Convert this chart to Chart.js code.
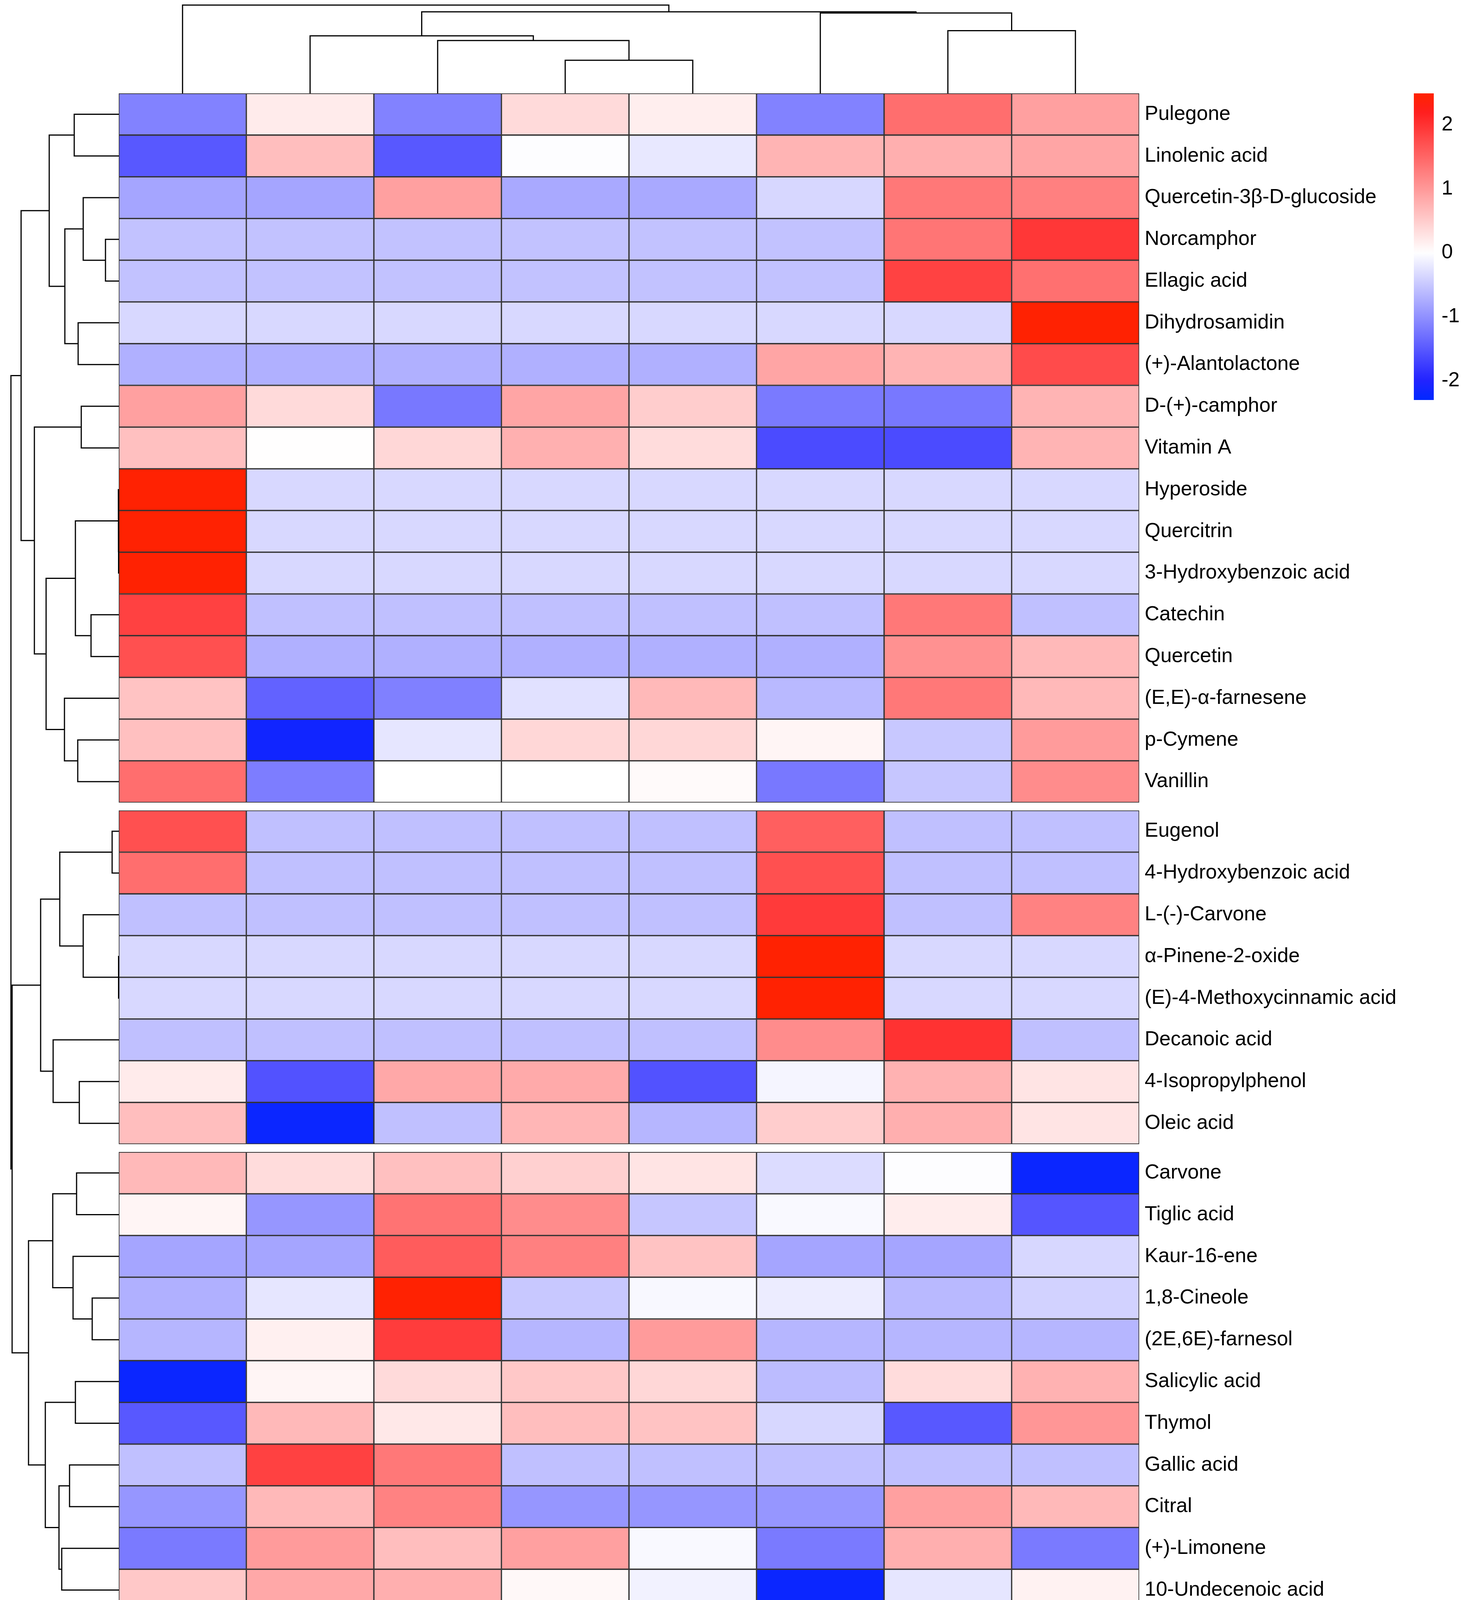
<!DOCTYPE html>
<html>
<head>
<meta charset="utf-8">
<script src="https://cdn.jsdelivr.net/npm/chart.js@4/dist/chart.umd.min.js"></script>
<style>
  body { margin: 0; background: #fff; }
  #wrap { position: relative; width: 3773px; height: 4458px; overflow: hidden; }
  canvas { position: absolute; }
</style>
</head>
<body>
<div id="wrap">
  <canvas id="heat"></canvas>
  <canvas id="rowTree"></canvas>
  <canvas id="colTree"></canvas>
  <canvas id="legend"></canvas>
</div>
<script>
// ---- data ----
const columns = ["BOR.EtOH", "CI.EtOAc", "BOW.EtOAc", "BOR.EtOAc", "SI.EtOAc", "CI.EtOH", "BOW.EtOH", "SI.EtOH"];

const rowNames = [
  "Pulegone", "Linolenic acid", "Quercetin-3β-D-glucoside", "Norcamphor", "Ellagic acid",
  "Dihydrosamidin", "(+)-Alantolactone", "D-(+)-camphor", "Vitamin A", "Hyperoside",
  "Quercitrin", "3-Hydroxybenzoic acid", "Catechin", "Quercetin", "(E,E)-α-farnesene",
  "p-Cymene", "Vanillin",
  "Eugenol", "4-Hydroxybenzoic acid", "L-(-)-Carvone", "α-Pinene-2-oxide",
  "(E)-4-Methoxycinnamic acid", "Decanoic acid", "4-Isopropylphenol", "Oleic acid",
  "Carvone", "Tiglic acid", "Kaur-16-ene", "1,8-Cineole", "(2E,6E)-farnesol",
  "Salicylic acid", "Thymol", "Gallic acid", "Citral", "(+)-Limonene", "10-Undecenoic acid"
];

// rows per cluster (gaps drawn between them)
const groupSizes = [17, 8, 11];

// row-scaled values, one array per row, columns in the order above
const values = [
  [-1.13, 0.20, -1.13, 0.36, 0.17, -1.13, 1.42, 0.93],
  [-1.51, 0.63, -1.51, -0.02, -0.21, 0.73, 0.78, 0.88],
  [-0.81, -0.81, 0.93, -0.78, -0.78, -0.36, 1.32, 1.24],
  [-0.55, -0.55, -0.55, -0.55, -0.55, -0.55, 1.35, 1.95],
  [-0.55, -0.55, -0.55, -0.55, -0.55, -0.55, 1.85, 1.40],
  [-0.35, -0.35, -0.35, -0.35, -0.35, -0.35, -0.35, 2.47],
  [-0.71, -0.71, -0.71, -0.71, -0.71, 0.88, 0.73, 1.76],
  [0.93, 0.36, -1.22, 0.88, 0.49, -1.20, -1.22, 0.73],
  [0.62, 0.01, 0.39, 0.77, 0.34, -1.62, -1.62, 0.73],
  [2.47, -0.35, -0.35, -0.35, -0.35, -0.35, -0.35, -0.35],
  [2.47, -0.35, -0.35, -0.35, -0.35, -0.35, -0.35, -0.35],
  [2.47, -0.35, -0.35, -0.35, -0.35, -0.35, -0.35, -0.35],
  [1.86, -0.57, -0.57, -0.57, -0.57, -0.57, 1.32, -0.57],
  [1.71, -0.71, -0.71, -0.71, -0.71, -0.71, 1.07, 0.68],
  [0.59, -1.42, -1.15, -0.27, 0.68, -0.63, 1.32, 0.68],
  [0.62, -2.15, -0.23, 0.39, 0.39, 0.10, -0.50, 0.98],
  [1.42, -1.17, 0.00, 0.00, 0.05, -1.22, -0.51, 1.12],
  [1.71, -0.57, -0.57, -0.57, -0.57, 1.56, -0.57, -0.57],
  [1.42, -0.57, -0.57, -0.57, -0.57, 1.71, -0.57, -0.57],
  [-0.57, -0.57, -0.57, -0.57, -0.57, 1.92, -0.57, 1.22],
  [-0.35, -0.35, -0.35, -0.35, -0.35, 2.47, -0.35, -0.35],
  [-0.35, -0.35, -0.35, -0.35, -0.35, 2.47, -0.35, -0.35],
  [-0.57, -0.57, -0.57, -0.57, -0.57, 1.12, 2.00, -0.57],
  [0.20, -1.56, 0.85, 0.83, -1.56, -0.09, 0.75, 0.26],
  [0.63, -2.20, -0.57, 0.71, -0.66, 0.49, 0.78, 0.26],
  [0.68, 0.34, 0.62, 0.46, 0.26, -0.32, -0.02, -2.20],
  [0.10, -0.95, 1.37, 1.12, -0.51, -0.05, 0.18, -1.53],
  [-0.81, -0.81, 1.59, 1.24, 0.59, -0.81, -0.81, -0.36],
  [-0.71, -0.23, 2.47, -0.50, -0.06, -0.17, -0.63, -0.41],
  [-0.66, 0.15, 1.90, -0.66, 0.98, -0.66, -0.66, -0.66],
  [-2.20, 0.10, 0.36, 0.54, 0.39, -0.60, 0.34, 0.75],
  [-1.51, 0.68, 0.22, 0.63, 0.59, -0.36, -1.51, 1.03],
  [-0.57, 1.86, 1.32, -0.57, -0.57, -0.57, -0.57, -0.57],
  [-0.95, 0.68, 1.22, -0.95, -0.95, -0.95, 0.93, 0.68],
  [-1.20, 0.98, 0.63, 0.93, -0.05, -1.20, 0.78, -1.20],
  [0.54, 0.85, 0.78, 0.07, -0.12, -2.20, -0.23, 0.13]
];

// hclust style merges: negative = leaf (-1 is the first row), positive = earlier merge (1-based), then height
const rowMerge = [
  [-1, -2, 114], [-4, -5, 34], [-3, 2, 91], [-6, -7, 104], [3, 4, 138], [1, 5, 178],
  [-8, -9, 96], [-11, -12, 0.5], [-10, 8, 1], [-13, -14, 71], [9, 10, 111],
  [-16, -17, 105], [-15, 12, 139], [11, 13, 186], [7, 14, 216], [6, 15, 250],
  [-18, -19, 17], [-21, -22, 0.5], [-20, 18, 91], [17, 19, 151], [-24, -25, 101],
  [-23, 21, 168], [20, 22, 200],
  [-26, -27, 108], [-29, -30, 68], [-28, 25, 117], [24, 26, 169], [-31, -32, 111],
  [-33, -34, 126], [-35, -36, 146], [29, 30, 153], [28, 31, 188], [27, 32, 231],
  [23, 33, 273], [16, 34, 276]
];
const colMerge = [
  [-4, -5, 84], [-3, 1, 134], [-2, 2, 146], [-7, -8, 159], [-6, 4, 204], [3, 5, 207], [-1, 6, 224]
];

const legendMin = -2.3;
const legendMax = 2.49;
const legendTicks = [-2, -1, 0, 1, 2];

// ---- layout (page pixels) ----
const HM = { left: 304, top: 239, right: 2916, bottom: 4124 };
const PAD = 20;
const GAP = 0.19;
const FONT = '"Liberation Sans", Arial, sans-serif';

Chart.defaults.font.family = FONT;
Chart.defaults.color = '#000';

let rowTops = [];
let yPos = 0;
groupSizes.forEach((n, g) => {
  for (let i = 0; i < n; i++) { rowTops.push(yPos); yPos += 1; }
  if (g < groupSizes.length - 1) yPos += GAP;
});
const totalRows = yPos;

function colorFor(v) {
  if (v >= 0) {
    const f = Math.min(v / legendMax, 1);
    const c = 255 * (1 - f);
    return `rgb(255,${Math.round(Math.max(c, 34 * f))},${Math.round(c)})`;
  }
  const f = Math.min(v / legendMin, 1);
  const c = 255 * (1 - f);
  return `rgb(${Math.round(c)},${Math.round(Math.max(c, 40 * f))},255)`;
}

function place(id, left, top, w, h) {
  const c = document.getElementById(id);
  c.width = w; c.height = h;
  c.style.left = left + 'px'; c.style.top = top + 'px';
  c.style.width = w + 'px'; c.style.height = h + 'px';
  return c;
}

// the scales must not push the plot area around; positions are fixed above
function noPadding(s) {
  s.paddingLeft = 0; s.paddingRight = 0; s.paddingTop = 0; s.paddingBottom = 0;
}

// returns one 4-point bracket per merge: [position, height] pairs
function treeSegments(merge, leafPos) {
  const pos = [];
  const segs = [];
  const at = k => k < 0 ? [leafPos[-k - 1], 0] : [pos[k - 1], merge[k - 1][2]];
  merge.forEach(([a, b, h]) => {
    const [pa, ha] = at(a);
    const [pb, hb] = at(b);
    segs.push([[pa, ha], [pa, h], [pb, h], [pb, hb]]);
    pos.push((pa + pb) / 2);
  });
  return segs;
}

const common = {
  responsive: false,
  devicePixelRatio: 1,
  animation: false,
  events: [],
  plugins: { legend: { display: false }, tooltip: { enabled: false } }
};

// ---- heatmap ----
const heatLeft = 150;
const heatW = 3600 - heatLeft;
const heatH = 4458 - (HM.top - PAD);
const heatCanvas = place('heat', heatLeft, HM.top - PAD, heatW, heatH);

new Chart(heatCanvas, {
  type: 'bar',
  data: {
    labels: columns,
    datasets: values.map((row, r) => ({
      data: row.map(() => [rowTops[r], rowTops[r] + 1]),
      backgroundColor: row.map(colorFor),
      borderColor: '#333333',
      borderWidth: 2,
      borderSkipped: false,
      categoryPercentage: 1,
      barPercentage: 1,
      grouped: false
    }))
  },
  options: {
    ...common,
    layout: { padding: { left: HM.left - heatLeft, top: PAD, right: 0, bottom: 0 } },
    scales: {
      x: {
        position: 'bottom',
        grid: { display: false, drawTicks: false },
        border: { display: false },
        ticks: { font: { size: 60 }, minRotation: 45, maxRotation: 45, autoSkip: false, padding: 16, labelOffset: 9 },
        afterFit: s => { noPadding(s); s.height = 4458 - HM.bottom; }
      },
      y: {
        type: 'linear',
        position: 'right',
        reverse: true,
        min: 0,
        max: totalRows,
        grid: { display: false, drawTicks: false },
        border: { display: false },
        ticks: { font: { size: 52 }, autoSkip: false, padding: 14, callback: (v, i) => rowNames[i] },
        afterBuildTicks: s => { s.ticks = rowTops.map(t => ({ value: t + 0.5 })); },
        afterFit: s => { noPadding(s); s.width = heatW - (HM.left - heatLeft) - (HM.right - HM.left); }
      }
    }
  }
});

// ---- row dendrogram ----
const rowRoot = rowMerge[rowMerge.length - 1][2];
const rowCanvas = place('rowTree', 0, HM.top - PAD, HM.left + 10, HM.bottom - HM.top + 2 * PAD);
new Chart(rowCanvas, {
  type: 'scatter',
  data: {
    datasets: treeSegments(rowMerge, rowTops.map(t => t + 0.5)).map(seg => ({
      data: seg.map(([p, h]) => ({ x: h, y: p })),
      showLine: true, borderColor: '#000', borderWidth: 3, pointRadius: 0, clip: false
    }))
  },
  options: {
    ...common,
    layout: { padding: { left: 28, right: 10, top: PAD, bottom: PAD } },
    scales: {
      x: { type: 'linear', display: false, reverse: true, min: 0, max: rowRoot },
      y: { type: 'linear', display: false, reverse: true, min: 0, max: totalRows }
    }
  }
});

// ---- column dendrogram ----
const colRoot = colMerge[colMerge.length - 1][2];
const colCanvas = place('colTree', HM.left - PAD, 0, HM.right - HM.left + 2 * PAD, HM.top + 6);
new Chart(colCanvas, {
  type: 'scatter',
  data: {
    datasets: treeSegments(colMerge, columns.map((c, i) => i + 0.5)).map(seg => ({
      data: seg.map(([p, h]) => ({ x: p, y: h })),
      showLine: true, borderColor: '#000', borderWidth: 3, pointRadius: 0, clip: false
    }))
  },
  options: {
    ...common,
    layout: { padding: { left: PAD, right: PAD, top: 13, bottom: 6 } },
    scales: {
      x: { type: 'linear', display: false, min: 0, max: columns.length },
      y: { type: 'linear', display: false, min: 0, max: colRoot }
    }
  }
});

// ---- colour key ----
const legCanvas = place('legend', 3600, HM.top - PAD, 173, 785 + 2 * PAD);
new Chart(legCanvas, {
  type: 'bar',
  data: {
    labels: [''],
    datasets: [{
      data: [[legendMin, legendMax]],
      borderWidth: 0,
      categoryPercentage: 1,
      barPercentage: 1,
      backgroundColor: ctx => {
        const ch = ctx.chart;
        if (!ch.chartArea) return '#fff';
        const y = ch.scales.y;
        const g = ch.ctx.createLinearGradient(0, y.getPixelForValue(legendMin), 0, y.getPixelForValue(legendMax));
        const steps = 48;
        for (let k = 0; k <= steps; k++) {
          g.addColorStop(k / steps, colorFor(legendMin + (legendMax - legendMin) * k / steps));
        }
        return g;
      }
    }]
  },
  options: {
    ...common,
    layout: { padding: { left: 19, right: 0, top: PAD, bottom: PAD } },
    scales: {
      x: { display: false },
      y: {
        position: 'right',
        min: legendMin,
        max: legendMax,
        grid: { display: false, drawTicks: false },
        border: { display: false },
        ticks: { font: { size: 52 }, padding: 20 },
        afterBuildTicks: s => { s.ticks = legendTicks.map(v => ({ value: v })); },
        afterFit: s => { noPadding(s); s.width = 173 - 19 - 51; }
      }
    }
  }
});
</script>
</body>
</html>
